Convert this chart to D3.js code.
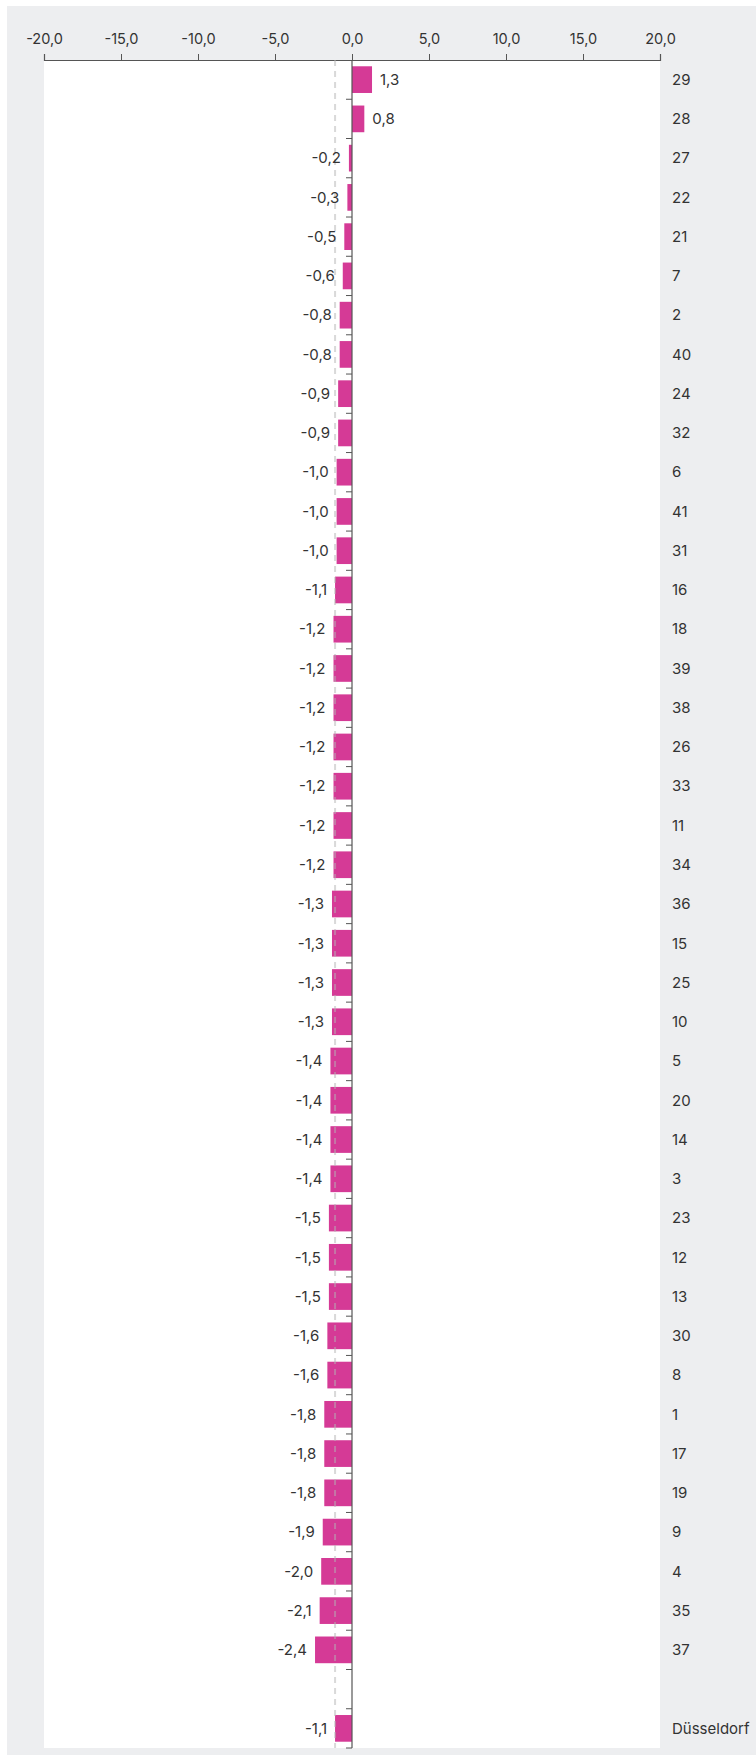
<!DOCTYPE html>
<html>
<head>
<meta charset="utf-8">
<script src="https://cdn.jsdelivr.net/npm/d3@7"></script>
<style>
  body { margin: 0; background: #fff; }
  svg text { font-family: Inter, "Noto Sans", sans-serif; fill: #333; }
</style>
</head>
<body>
<svg id="chart"></svg>
<script>
// districts (Stadtteile), top to bottom; "" is the blank row before the city total
var districts = ["29","28","27","22","21","7","2","40","24","32","6","41","31","16","18","39","38","26","33","11",
                 "34","36","15","25","10","5","20","14","3","23","12","13","30","8","1","17","19","9","4","35","37","","Düsseldorf"];
var changes = [1.3,0.8,-0.2,-0.3,-0.5,-0.6,-0.8,-0.8,-0.9,-0.9,-1.0,-1.0,-1.0,-1.1,-1.2,-1.2,-1.2,-1.2,-1.2,-1.2,
               -1.2,-1.3,-1.3,-1.3,-1.3,-1.4,-1.4,-1.4,-1.4,-1.5,-1.5,-1.5,-1.6,-1.6,-1.8,-1.8,-1.8,-1.9,-2.0,-2.1,-2.4,null,-1.1];
var xTicks = [-20,-15,-10,-5,0,5,10,15,20];
var cityAvg = -1.1;

var W = 756, H = 1755;
var margin = {top: 60, right: 96, bottom: 7, left: 44};

var svg = d3.select("#chart").attr("width", W).attr("height", H);

// grey panel + white plot area
svg.append("rect").attr("x", 7).attr("y", 6).attr("width", W - 7).attr("height", H - 6).attr("fill", "#edeef0");
svg.append("rect").attr("x", margin.left).attr("y", margin.top)
   .attr("width", W - margin.left - margin.right).attr("height", H - margin.top - margin.bottom)
   .attr("fill", "#fff");

var x = d3.scaleLinear().domain([-20, 20]).range([margin.left, W - margin.right]);
var y = d3.scaleBand().domain(districts).range([margin.top, H - margin.bottom]).paddingInner(0.32).paddingOuter(0.16);

var fmt = v => d3.format(".1f")(v).replace(".", ",").replace("−", "-");

// top axis
var xAxis = svg.append("g").attr("transform", "translate(0," + margin.top + ")")
  .call(d3.axisTop(x).tickValues(xTicks).tickSize(6).tickPadding(10).tickFormat(fmt));
xAxis.select(".domain").attr("stroke", "#555").attr("stroke-width", 1.2);
xAxis.selectAll(".tick line").attr("stroke", "#555");
xAxis.selectAll("text").style("font-size", "14.5px").attr("fill", "#333");

var data = districts.map((d, i) => ({name: d, v: changes[i]})).filter(d => d.v !== null);

// bars
svg.append("g").selectAll("rect").data(data).enter().append("rect")
  .attr("x", d => x(Math.min(0, d.v)))
  .attr("y", d => y(d.name))
  .attr("width", d => Math.abs(x(d.v) - x(0)))
  .attr("height", y.bandwidth())
  .attr("fill", "#d53a96");

// city average reference line
svg.append("line")
  .attr("x1", x(cityAvg)).attr("x2", x(cityAvg))
  .attr("y1", margin.top).attr("y2", H - margin.bottom)
  .attr("stroke", "#b3b3b3").attr("stroke-opacity", 0.5)
  .attr("stroke-width", 2).attr("stroke-dasharray", "6,5");

// zero line with ticks at band boundaries
svg.append("line")
  .attr("x1", x(0)).attr("x2", x(0))
  .attr("y1", margin.top).attr("y2", H - margin.bottom)
  .attr("stroke", "#555").attr("stroke-width", 1.2);
var step = y.step();
svg.append("g").selectAll("line").data(districts).enter().append("line")
  .attr("x1", x(0) - 6).attr("x2", x(0))
  .attr("y1", (d, i) => margin.top + (i + 1) * step)
  .attr("y2", (d, i) => margin.top + (i + 1) * step)
  .attr("stroke", "#555");

// value labels
svg.append("g").selectAll("text").data(data).enter().append("text")
  .attr("x", d => d.v < 0 ? x(d.v) - 8 : x(d.v) + 8)
  .attr("y", d => y(d.name) + y.bandwidth() / 2)
  .attr("dy", "0.35em")
  .attr("text-anchor", d => d.v < 0 ? "end" : "start")
  .style("font-size", "15px")
  .text(d => fmt(d.v));

// district labels on the right
svg.append("g").selectAll("text").data(districts.filter(d => d !== "")).enter().append("text")
  .attr("x", W - margin.right + 12)
  .attr("y", d => y(d) + y.bandwidth() / 2)
  .attr("dy", "0.35em")
  .style("font-size", "15px")
  .text(d => d);
</script>
</body>
</html>
